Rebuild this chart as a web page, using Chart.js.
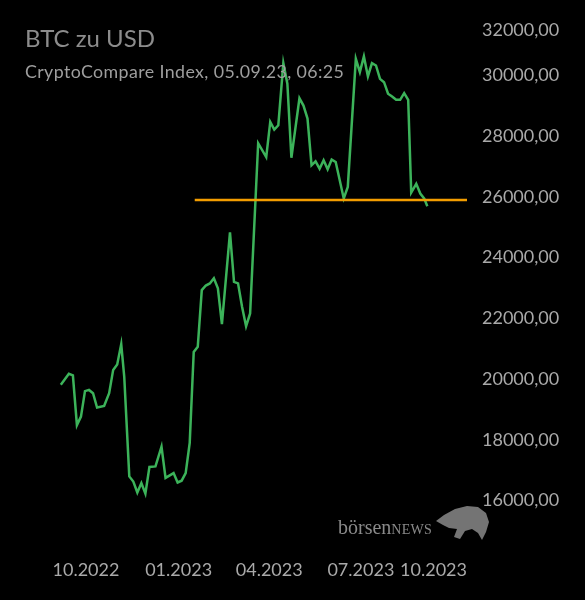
<!DOCTYPE html>
<html>
<head>
<meta charset="utf-8">
<script src="https://cdn.jsdelivr.net/npm/chart.js@4.4.0/dist/chart.umd.min.js"></script>
<style>
  html, body { margin: 0; padding: 0; background: #000; }
  #wrap { position: relative; width: 585px; height: 600px; }
  #title { position: absolute; left: 25px; top: 24px; font: 24px/1.2 Lato, sans-serif; color: #8c8c8c; }
  #subtitle { position: absolute; left: 25px; top: 61px; font: 17.8px/1.2 Lato, sans-serif; letter-spacing: 0.4px; color: #9e9e9e; white-space: nowrap; }
  #brand { position: absolute; left: 338px; top: 515px; font: 20px/1.2 "Liberation Serif", serif; color: #8a8a8a; }
  #brand span { font-size: 14px; letter-spacing: 0.3px; }
  #bull { position: absolute; left: 0; top: 0; }
</style>
</head>
<body>
<div id="wrap">
  <canvas id="btcChart"></canvas>
  <div id="title">BTC zu USD</div>
  <div id="subtitle">CryptoCompare Index, 05.09.23, 06:25</div>
  <div id="brand">börsen<span>NEWS</span></div>
  <svg id="bull" width="585" height="600">
    <path d="M436,521 L444,515 L455,509 L467,506 L478,507 L486,513 L489,522 L486,532 L482,540 L478,533 L472,529 L465,531 L460,539 L454,537 L457,529 L449,528 L443,525 Z" fill="#747474"/>
  </svg>
</div>
<script>
// BTC closes (approx.), CryptoCompare index
const dates = [
  '2022-09-06', '2022-09-14', '2022-09-18', '2022-09-22', '2022-09-26', '2022-09-30',
  '2022-10-04', '2022-10-08', '2022-10-12', '2022-10-19', '2022-10-24', '2022-10-28',
  '2022-11-01', '2022-11-05', '2022-11-08', '2022-11-13', '2022-11-17', '2022-11-21',
  '2022-11-25', '2022-11-29', '2022-12-03', '2022-12-09', '2022-12-15', '2022-12-19',
  '2022-12-27', '2022-12-31', '2023-01-04', '2023-01-08', '2023-01-12', '2023-01-16',
  '2023-01-20', '2023-01-24', '2023-01-28', '2023-02-01', '2023-02-05', '2023-02-09',
  '2023-02-13', '2023-02-21', '2023-02-25', '2023-03-01', '2023-03-05', '2023-03-09',
  '2023-03-13', '2023-03-21', '2023-03-29', '2023-04-02', '2023-04-06', '2023-04-10',
  '2023-04-15', '2023-04-19', '2023-04-23', '2023-05-01', '2023-05-05', '2023-05-09',
  '2023-05-13', '2023-05-17', '2023-05-21', '2023-05-25', '2023-05-29', '2023-06-02',
  '2023-06-06', '2023-06-14', '2023-06-18', '2023-06-26', '2023-06-30', '2023-07-04',
  '2023-07-08', '2023-07-12', '2023-07-16', '2023-07-20', '2023-07-24', '2023-07-28',
  '2023-08-01', '2023-08-05', '2023-08-09', '2023-08-13', '2023-08-17', '2023-08-20',
  '2023-08-25', '2023-08-29', '2023-09-02', '2023-09-05'
];
const prices = [
  19810, 20170, 20120, 18480, 18760, 19600,
  19640, 19530, 19060, 19110, 19530, 20300,
  20480, 21150, 20070, 16790, 16620, 16260,
  16570, 16220, 17100, 17120, 17770, 16740,
  16900, 16590, 16650, 16900, 17890, 20890,
  21060, 22930, 23080, 23150, 23320, 22990,
  21810, 24830, 23200, 23150, 22380, 21740,
  22160, 27770, 27310, 28470, 28220, 28360,
  30410, 29730, 27290, 29250, 29010, 28580,
  27040, 27170, 26930, 27210, 26910, 27230,
  27150, 25950, 26330, 30550, 30110, 30630,
  29970, 30410, 30330, 29890, 29780, 29400,
  29310, 29200, 29200, 29420, 29200, 26140,
  26430, 26110, 25940, 25690
];

// horizontal reference level (orange)
const refLevel = 25900;
const refStart = '2023-01-17';

const xTickDates = ['2022-10-01', '2023-01-01', '2023-04-01', '2023-07-01', '2023-10-01'];
const xTickLabels = ['10.2022', '01.2023', '04.2023', '07.2023', '10.2023'];
const yTicks = [16000, 18000, 20000, 22000, 24000, 26000, 28000, 30000, 32000];

const day0 = Date.UTC(2022, 9, 1);
const toDay = s => (Date.parse(s) - day0) / 86400000;

const xMin = -85.4, xMax = 378.4;
const yMin = 14530, yMax = 31500;

const tickColor = '#a9a9a9';
const tickFont = { family: 'Lato, sans-serif', size: 18 };

new Chart(document.getElementById('btcChart'), {
    type: 'line',
    data: {
        datasets: [{
            data: [{ x: toDay(refStart), y: refLevel }, { x: xMax, y: refLevel }],
            borderColor: '#f29d00',
            borderWidth: 2.5,
            pointRadius: 0
        }, {
            data: dates.map((d, i) => ({ x: toDay(d), y: prices[i] })),
            borderColor: '#3cb35a',
            borderWidth: 2.5,
            pointRadius: 0,
            tension: 0
        }]
    },
    options: {
        responsive: true,
        maintainAspectRatio: false,
        animation: false,
        layout: { padding: { top: 30, left: 0, right: 0, bottom: 0 } },
        plugins: { legend: { display: false }, tooltip: { enabled: false } },
        scales: {
            x: {
                type: 'linear',
                min: xMin,
                max: xMax,
                grid: { display: false, drawTicks: false },
                border: { display: false },
                afterBuildTicks: scale => {
                    // blank tick at the left edge, last label pinned to the right edge
                    scale.ticks = [{ value: xMin }].concat(
                        xTickDates.map((d, i) => ({ value: i === xTickDates.length - 1 ? xMax : toDay(d) }))
                    );
                },
                afterFit: scale => {
                    scale.height = 55;
                    scale.paddingLeft = 0;
                    scale.paddingRight = 0;
                },
                ticks: {
                    autoSkip: false,
                    maxRotation: 0,
                    align: 'inner',
                    padding: 14,
                    color: tickColor,
                    font: tickFont,
                    callback: (v, i) => i === 0 ? '' : xTickLabels[i - 1]
                }
            },
            y: {
                position: 'right',
                min: yMin,
                max: yMax,
                grid: { display: false, drawTicks: false },
                border: { display: false },
                afterBuildTicks: scale => {
                    scale.ticks = yTicks.map(v => ({ value: Math.min(v, yMax) }));
                },
                afterFit: scale => { scale.width = 118; },
                ticks: {
                    autoSkip: false,
                    padding: 15,
                    color: tickColor,
                    font: tickFont,
                    callback: (v, i) => yTicks[i].toFixed(2).replace('.', ',')
                }
            }
        }
    }
});
</script>
</body>
</html>
